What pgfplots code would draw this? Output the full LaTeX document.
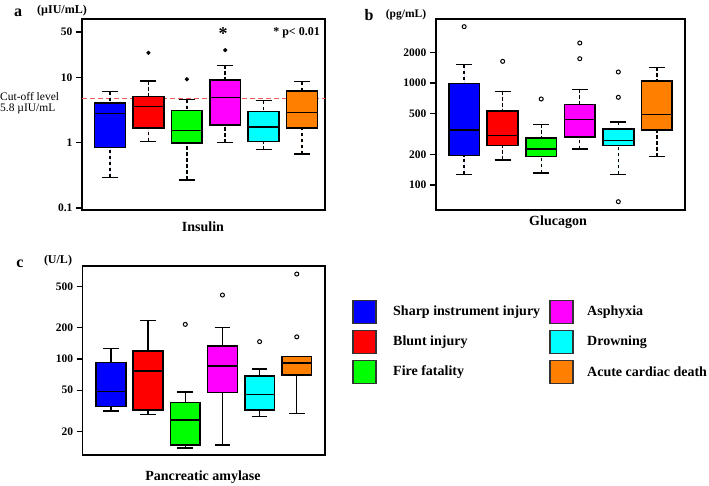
\documentclass[border=0pt]{standalone}
\usepackage{fontspec}
\setmainfont{Liberation Serif}
\usepackage{pgfplots}
\pgfplotsset{compat=1.18}
\usepgfplotslibrary{statistics}
\definecolor{cB}{RGB}{0,0,255}
\definecolor{cR}{RGB}{255,0,0}
\definecolor{cG}{RGB}{0,255,0}
\definecolor{cM}{RGB}{255,0,255}
\definecolor{cC}{RGB}{0,255,255}
\definecolor{cO}{RGB}{255,128,0}
\definecolor{cutc}{RGB}{240,90,90}
\pgfplotsset{
  boxplot/whisker line/.style={},
  boxplot/every box/.style={draw=black, line width=1.6pt},
  boxplot/every median/.style={draw=black, line width=1.5pt},
  boxplot/draw/lower whisker/.code={%
    \draw[/pgfplots/boxplot/every whisker/.try, /pgfplots/boxplot/whisker line]
      (boxplot cs:\pgfplotsboxplotvalue{lower whisker},0) -- (boxplot cs:\pgfplotsboxplotvalue{lower quartile},0);
    \draw[/pgfplots/boxplot/every whisker/.try, solid]
      (boxplot whisker cs:\pgfplotsboxplotvalue{lower whisker},0) -- (boxplot whisker cs:\pgfplotsboxplotvalue{lower whisker},1);
  },
  boxplot/draw/upper whisker/.code={%
    \draw[/pgfplots/boxplot/every whisker/.try, /pgfplots/boxplot/whisker line]
      (boxplot cs:\pgfplotsboxplotvalue{upper whisker},0) -- (boxplot cs:\pgfplotsboxplotvalue{upper quartile},0);
    \draw[/pgfplots/boxplot/every whisker/.try, solid]
      (boxplot whisker cs:\pgfplotsboxplotvalue{upper whisker},0) -- (boxplot whisker cs:\pgfplotsboxplotvalue{upper whisker},1);
  },
}
\begin{document}
\begin{tikzpicture}
\useasboundingbox (0,0) rectangle (709pt,486pt);
% ---------- a: Insulin ----------
\begin{axis}[scale only axis, ymode=log,
  axis line style={line width=1.3pt},
  xtick=\empty, ytick pos=left, tick align=outside,
  major tick length=6pt,
  every tick/.style={black, line width=1.2pt},
  yminorticks=false,
  yticklabel style={font=\bfseries\fontsize{11.5}{12}\selectfont},
  boxplot/draw direction=y, boxplot/box extend=0.8, boxplot/whisker extend=0.42,
  at={(82pt,276pt)}, anchor=south west,
  width=243pt, height=191pt,
  xmin=0.27, xmax=6.6, ymin=0.093, ymax=79,
  ytick={0.1,1,10,50}, yticklabels={0.1,1,10,50},
  boxplot/whisker line/.style={dash pattern=on 3.5pt off 2.5pt},
]
\addplot[cutc, line width=1.1pt, dash pattern=on 5pt off 3pt] coordinates {(0.27,4.8) (6.6,4.8)};
\addplot[draw=black, fill=cB, line width=1.4pt, mark=*, mark size=1.8pt, mark options={solid, fill=black, line width=0.6pt}, boxplot prepared={draw position=1, lower whisker=0.295, lower quartile=0.85, median=2.8, upper quartile=4.1, upper whisker=6.1}] coordinates {};
\addplot[draw=black, fill=cR, line width=1.4pt, mark=*, mark size=1.8pt, mark options={solid, fill=black, line width=0.6pt}, boxplot prepared={draw position=2, lower whisker=1.05, lower quartile=1.67, median=3.6, upper quartile=5.1, upper whisker=8.8}] coordinates {(0,23.9)};
\addplot[draw=black, fill=cG, line width=1.4pt, mark=*, mark size=1.8pt, mark options={solid, fill=black, line width=0.6pt}, boxplot prepared={draw position=3, lower whisker=0.27, lower quartile=1.0, median=1.54, upper quartile=3.1, upper whisker=4.6}] coordinates {(0,9.4)};
\addplot[draw=black, fill=cM, line width=1.4pt, mark=*, mark size=1.8pt, mark options={solid, fill=black, line width=0.6pt}, boxplot prepared={draw position=4, lower whisker=1.0, lower quartile=1.88, median=4.9, upper quartile=9.2, upper whisker=15.4}] coordinates {(0,26.3)};
\addplot[draw=black, fill=cC, line width=1.4pt, mark=*, mark size=1.8pt, mark options={solid, fill=black, line width=0.6pt}, boxplot prepared={draw position=5, lower whisker=0.78, lower quartile=1.04, median=1.75, upper quartile=3.0, upper whisker=4.4}] coordinates {};
\addplot[draw=black, fill=cO, line width=1.4pt, mark=*, mark size=1.8pt, mark options={solid, fill=black, line width=0.6pt}, boxplot prepared={draw position=6, lower whisker=0.67, lower quartile=1.67, median=2.9, upper quartile=6.2, upper whisker=8.6}] coordinates {};
\end{axis}
% ---------- b: Glucagon ----------
\begin{axis}[scale only axis, ymode=log,
  axis line style={line width=1.3pt},
  xtick=\empty, ytick pos=left, tick align=outside,
  major tick length=6pt,
  every tick/.style={black, line width=1.2pt},
  yminorticks=false,
  yticklabel style={font=\bfseries\fontsize{11.5}{12}\selectfont},
  boxplot/draw direction=y, boxplot/box extend=0.8, boxplot/whisker extend=0.42,
  at={(436pt,276pt)}, anchor=south west,
  width=249pt, height=191pt,
  xmin=0.27, xmax=6.73, ymin=56.9, ymax=4240,
  ytick={100,200,500,1000,2000}, yticklabels={100,200,500,1000,2000},
  boxplot/whisker line/.style={dash pattern=on 3.5pt off 2.5pt},
]
\addplot[draw=black, fill=cB, line width=1.4pt, mark=o, mark size=2pt, mark options={solid, line width=1pt}, boxplot prepared={draw position=1, lower whisker=127, lower quartile=194, median=348, upper quartile=993, upper whisker=1511}] coordinates {(0,3565)};
\addplot[draw=black, fill=cR, line width=1.4pt, mark=o, mark size=2pt, mark options={solid, line width=1pt}, boxplot prepared={draw position=2, lower whisker=176, lower quartile=243, median=304, upper quartile=535, upper whisker=829}] coordinates {(0,1630)};
\addplot[draw=black, fill=cG, line width=1.4pt, mark=o, mark size=2pt, mark options={solid, line width=1pt}, boxplot prepared={draw position=3, lower whisker=131, lower quartile=191, median=225, upper quartile=289, upper whisker=393}] coordinates {(0,697)};
\addplot[draw=black, fill=cM, line width=1.4pt, mark=o, mark size=2pt, mark options={solid, line width=1pt}, boxplot prepared={draw position=4, lower whisker=225, lower quartile=296, median=441, upper quartile=613, upper whisker=867}] coordinates {(0,2466) (0,1730)};
\addplot[draw=black, fill=cC, line width=1.4pt, mark=o, mark size=2pt, mark options={solid, line width=1pt}, boxplot prepared={draw position=5, lower whisker=127, lower quartile=243, median=274, upper quartile=354, upper whisker=415}] coordinates {(0,1282) (0,724) (0,68.6)};
\addplot[draw=black, fill=cO, line width=1.4pt, mark=o, mark size=2pt, mark options={solid, line width=1pt}, boxplot prepared={draw position=6, lower whisker=190, lower quartile=346, median=493, upper quartile=1040, upper whisker=1425}] coordinates {};
\end{axis}
% ---------- c: Pancreatic amylase ----------
\begin{axis}[scale only axis, ymode=log,
  axis line style={line width=1.3pt},
  xtick=\empty, ytick pos=left, tick align=outside,
  major tick length=6pt,
  every tick/.style={black, line width=1.2pt},
  yminorticks=false,
  yticklabel style={font=\bfseries\fontsize{11.5}{12}\selectfont},
  boxplot/draw direction=y, boxplot/box extend=0.8, boxplot/whisker extend=0.42,
  at={(82.7pt,31pt)}, anchor=south west,
  width=242.3pt, height=189pt,
  xmin=0.24, xmax=6.76, ymin=11.9, ymax=784,
  ytick={20,50,100,200,500}, yticklabels={20,50,100,200,500},
]
\addplot[draw=black, fill=cB, line width=1.4pt, mark=o, mark size=2pt, mark options={solid, line width=1pt}, boxplot prepared={draw position=1, lower whisker=31.6, lower quartile=34.8, median=48.5, upper quartile=92.2, upper whisker=126.8}] coordinates {};
\addplot[draw=black, fill=cR, line width=1.4pt, mark=o, mark size=2pt, mark options={solid, line width=1pt}, boxplot prepared={draw position=2, lower whisker=29, lower quartile=32.3, median=76.7, upper quartile=119.4, upper whisker=233}] coordinates {};
\addplot[draw=black, fill=cG, line width=1.4pt, mark=o, mark size=2pt, mark options={solid, line width=1pt}, boxplot prepared={draw position=3, lower whisker=13.9, lower quartile=14.9, median=25.9, upper quartile=38, upper whisker=47.9}] coordinates {(0,215)};
\addplot[draw=black, fill=cM, line width=1.4pt, mark=o, mark size=2pt, mark options={solid, line width=1pt}, boxplot prepared={draw position=4, lower whisker=14.9, lower quartile=47.4, median=85.7, upper quartile=134, upper whisker=200}] coordinates {(0,412)};
\addplot[draw=black, fill=cC, line width=1.4pt, mark=o, mark size=2pt, mark options={solid, line width=1pt}, boxplot prepared={draw position=5, lower whisker=27.9, lower quartile=32.3, median=45.7, upper quartile=68.7, upper whisker=80.1}] coordinates {(0,146.6)};
\addplot[draw=black, fill=cO, line width=1.4pt, mark=o, mark size=2pt, mark options={solid, line width=1pt}, boxplot prepared={draw position=6, lower whisker=30, lower quartile=70.2, median=90.9, upper quartile=105.3, upper whisker=105.3}] coordinates {(0,656) (0,163)};
\end{axis}
% ---------- texts ----------
\node[font=\bfseries\fontsize{18}{18}\selectfont] at (223pt,452pt) {*};
\node[font=\bfseries\fontsize{16}{16}\selectfont] at (18pt,473pt) {a};
\node[font=\bfseries\fontsize{12}{12}\selectfont] at (62pt,475pt) {(µIU/mL)};
\node[anchor=west, font=\fontsize{11.5}{12}\selectfont, inner sep=0pt] at (0pt,389pt) {Cut-off level};
\node[anchor=west, font=\fontsize{11.5}{12}\selectfont, inner sep=0pt] at (0pt,377pt) {5.8 µIU/mL};
\node[anchor=east, font=\bfseries\fontsize{12}{12}\selectfont, inner sep=0pt] at (320pt,453pt) {* p< 0.01};
\node[font=\bfseries\fontsize{14}{14}\selectfont] at (203pt,259pt) {Insulin};
\node[font=\bfseries\fontsize{16}{16}\selectfont] at (369pt,471pt) {b};
\node[font=\bfseries\fontsize{11.5}{12}\selectfont] at (406pt,471pt) {(pg/mL)};
\node[font=\bfseries\fontsize{14}{14}\selectfont] at (558pt,264pt) {Glucagon};
\node[font=\bfseries\fontsize{16}{16}\selectfont] at (20pt,222pt) {c};
\node[font=\bfseries\fontsize{12}{12}\selectfont] at (58pt,225pt) {(U/L)};
\node[font=\bfseries\fontsize{14}{14}\selectfont] at (203pt,9pt) {Pancreatic amylase};
% ---------- legend ----------
\foreach \c/\t/\x/\y/\d in {cB/Sharp instrument injury/353/174.3/40, cR/Blunt injury/353/144.3/40, cG/Fire fatality/353/114.3/40, cM/Asphyxia/550/174.3/37, cC/Drowning/550/144.3/37, cO/Acute cardiac death/550/114.3/37}{
  \draw[fill=\c, draw=black!80, line width=1.2pt] (\x pt,\y pt-11.5pt) rectangle ++(23pt,23pt);
  \node[anchor=west, inner sep=0pt, font=\bfseries\fontsize{14}{14}\selectfont] at (\x pt+\d pt,\y pt) {\t};
}
\end{tikzpicture}
\end{document}
